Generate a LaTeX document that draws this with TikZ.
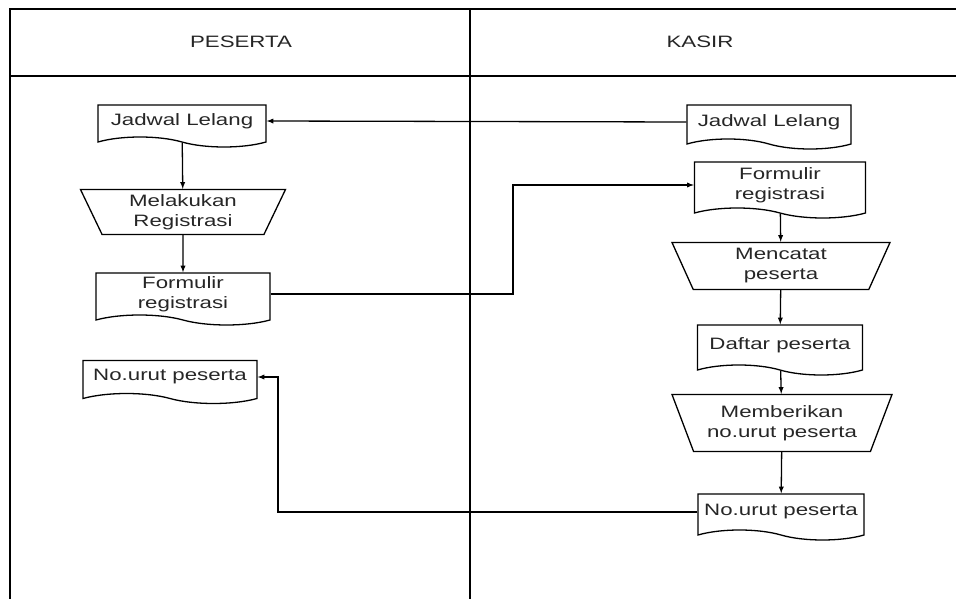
\documentclass[tikz,border=0pt]{standalone}
\usepackage{fontspec}
\setmainfont[FakeStretch=1.35]{Liberation Sans}
\usetikzlibrary{shapes,arrows,positioning}

\begin{document}
\begin{tikzpicture}[x=1pt,y=-1pt,
    dok/.style={draw,line width=1.3pt,tape,tape bend top=none,tape bend bottom=out and in,
        tape bend height=10pt,inner sep=2pt,align=center},
    manual/.style={draw,line width=1.3pt,trapezium,shape border rotate=180,
        trapezium left angle=60,trapezium right angle=60,trapezium stretches body,
        inner sep=1pt,align=center},
    panah/.style={-latex,line width=1.3pt},
    every node/.style={font=\fontsize{16.5}{20}\selectfont,text=black!85}]
                \useasboundingbox (0,0) rectangle (956,599);
                \draw[line width=1.6pt] (956,9) -- (10,9) -- (10,599);
                \draw[line width=1.6pt] (10,76) -- (956,76);
                \draw[line width=1.6pt] (470,9) -- (470,599);
                \node (peserta) at (241,42) {PESERTA};
                \node (kasir) at (700,42) {KASIR};
                \node[dok,minimum width=168,minimum height=42] (jadL) at (182,121) {Jadwal Lelang};
                \node[manual,minimum width=205,minimum height=45] (regL) at (183,212) {Melakukan\\Registrasi};
                \node[dok,minimum width=174,minimum height=52] (formL) at (183,294) {Formulir\\registrasi};
                \node[dok,minimum width=174,minimum height=43] (noL) at (170,377) {No.urut peserta};
                \node[dok,minimum width=164,minimum height=44] (jadR) at (769,122) {Jadwal Lelang};
                \node[dok,minimum width=171,minimum height=56] (formR) at (780,185) {Formulir\\registrasi};
                \node[manual,minimum width=218,minimum height=47] (catat) at (781,266) {Mencatat\\peserta};
                \node[dok,minimum width=165,minimum height=50] (daftar) at (780,345) {Daftar peserta};
                \node[manual,minimum width=220,minimum height=57] (beri) at (782,423) {Memberikan\\no.urut peserta};
                \node[dok,minimum width=166,minimum height=46] (noR) at (781,512) {No.urut peserta};
                \coordinate (jalur1) at (513,0);
                \coordinate (jalur2) at (278,0);
                \draw[panah] (jadR.west) -- (jadL.east);
                \draw[panah] (jadL) -- (regL);
                \draw[panah] (regL) -- (formL);
                \draw[panah] (formL.east) -| (jalur1 |- formR.west) -- (formR.west);
                \draw[panah] (formR) -- (catat);
                \draw[panah] (catat) -- (daftar);
                \draw[panah] (daftar) -- (beri);
                \draw[panah] (beri) -- (noR);
                \draw[panah] (noR.west) -| (jalur2 |- noL.east) -- (noL.east);
            \end{tikzpicture}
\end{document}
